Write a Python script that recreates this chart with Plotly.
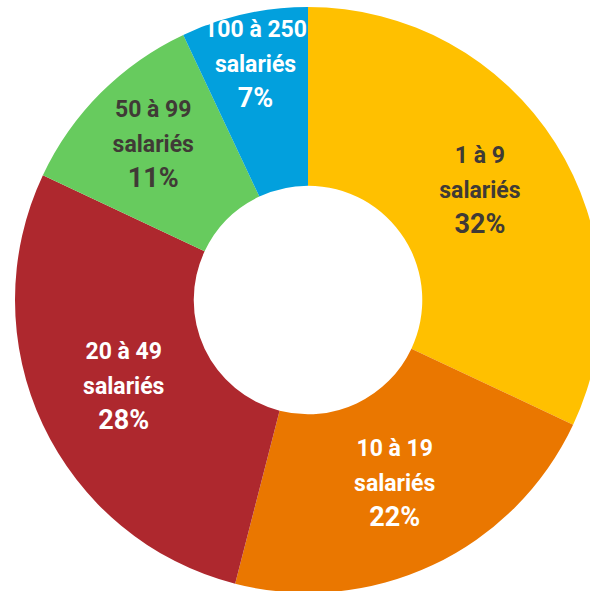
import plotly.graph_objects as go

# taille des entreprises (part des entreprises, %)
categories = ["1 à 9", "10 à 19", "20 à 49", "50 à 99", "100 à 250"]
shares = [32, 22, 28, 11, 7]
slice_colors = ["#FFC000", "#EA7700", "#AE282E", "#67CB5E", "#02A0DD"]
text_colors = ["#403A36", "#FFFFFF", "#FFFFFF", "#403A36", "#FFFFFF"]

labels = [
    "<b><span style='font-size:23px'>%s</span><br>"
    "<span style='font-size:23px'>salariés</span><br>%d%%</b>" % (c, v)
    for c, v in zip(categories, shares)
]

fig = go.Figure(
    go.Pie(
        labels=categories,
        values=shares,
        text=labels,
        textinfo="text",
        textposition="inside",
        insidetextorientation="horizontal",
        textfont=dict(family="Roboto", size=27, color=text_colors, weight="bold"),
        marker=dict(colors=slice_colors, line=dict(width=0)),
        hole=0.39,
        sort=False,
        direction="clockwise",
        rotation=0,
        hoverinfo="skip",
    )
)

fig.update_layout(
    width=616,
    height=600,
    margin=dict(l=15, r=15, t=7, b=7),
    paper_bgcolor="white",
    showlegend=False,
    uniformtext=dict(minsize=27, mode="show"),
    font=dict(family="Roboto"),
)

fig.write_html(
    "out.html",
    config={"displayModeBar": False},
    post_script="document.body.style.margin='0';document.body.style.overflow='hidden';",
)
